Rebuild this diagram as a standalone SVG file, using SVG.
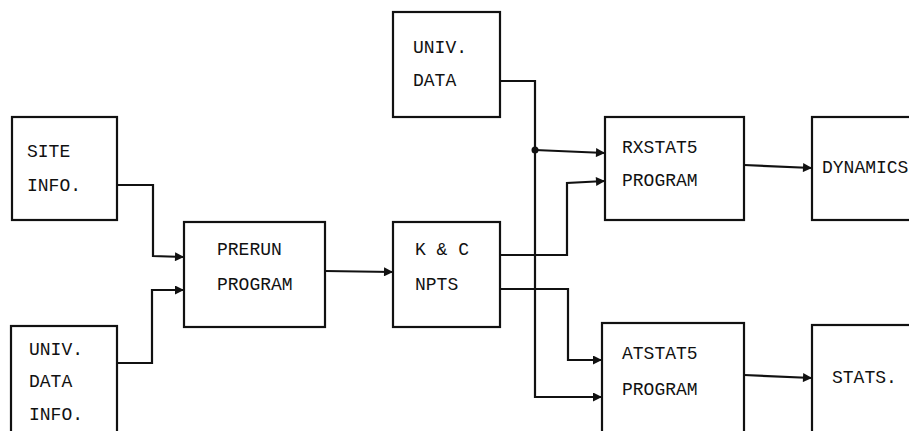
<svg xmlns="http://www.w3.org/2000/svg" width="909" height="431" viewBox="0 0 909 431">
<style>
.box{fill:#fff;stroke:#111;stroke-width:2.2}
.t{font-family:"Liberation Mono","Courier New",monospace;font-size:18px;fill:#111}
.c{fill:none;stroke:#111;stroke-width:2.2}
</style>
<defs>
<marker id="ah" viewBox="0 0 10 10" refX="10" refY="5" markerWidth="10" markerHeight="9" markerUnits="userSpaceOnUse" orient="auto">
<path d="M0,0 L10,5 L0,10 z" fill="#111"/>
</marker>
</defs>
<rect width="909" height="431" fill="#fff"/>
<g id="connectors">
<polyline class="c" points="117,185 153,185 153,256 184,257" marker-end="url(#ah)"/>
<polyline class="c" points="117,363 152,363 152,290 184,290" marker-end="url(#ah)"/>
<polyline class="c" points="325,271 393,272" marker-end="url(#ah)"/>
<polyline class="c" points="500,255 567,255 567,183 605,181" marker-end="url(#ah)"/>
<polyline class="c" points="500,289 568,289 568,360 602,360" marker-end="url(#ah)"/>
<polyline class="c" points="500,81 535,81 535,397 602,397" marker-end="url(#ah)"/>
<polyline class="c" points="535,150 605,153" marker-end="url(#ah)"/>
<circle cx="535" cy="150" r="3.5" fill="#111"/>
<polyline class="c" points="744,165 812,168" marker-end="url(#ah)"/>
<polyline class="c" points="744,375 812,378" marker-end="url(#ah)"/>
</g>
<g id="site-info">
<rect class="box" x="12" y="117" width="105" height="103"/>
<text class="t" x="27" y="157">SITE</text>
<text class="t" x="27" y="191">INFO.</text>
</g>
<g id="univ-data-info">
<rect class="box" x="11" y="326" width="106" height="110"/>
<text class="t" x="29" y="355">UNIV.</text>
<text class="t" x="29" y="387">DATA</text>
<text class="t" x="29" y="420">INFO.</text>
</g>
<g id="prerun">
<rect class="box" x="184" y="222" width="141" height="105"/>
<text class="t" x="217" y="255">PRERUN</text>
<text class="t" x="217" y="290">PROGRAM</text>
</g>
<g id="kc-npts">
<rect class="box" x="393" y="222" width="107" height="105"/>
<text class="t" x="415" y="255">K &amp; C</text>
<text class="t" x="415" y="290">NPTS</text>
</g>
<g id="univ-data">
<rect class="box" x="393" y="12" width="107" height="105"/>
<text class="t" x="413" y="53">UNIV.</text>
<text class="t" x="413" y="86">DATA</text>
</g>
<g id="rxstat5">
<rect class="box" x="605" y="117" width="139" height="103"/>
<text class="t" x="622" y="153">RXSTAT5</text>
<text class="t" x="622" y="186">PROGRAM</text>
</g>
<g id="dynamics">
<rect class="box" x="812" y="117" width="110" height="103"/>
<text class="t" x="822" y="173">DYNAMICS</text>
</g>
<g id="atstat5">
<rect class="box" x="602" y="323" width="142" height="112"/>
<text class="t" x="622" y="359">ATSTAT5</text>
<text class="t" x="622" y="395">PROGRAM</text>
</g>
<g id="stats">
<rect class="box" x="812" y="325" width="110" height="110"/>
<text class="t" x="832" y="383">STATS.</text>
</g>
</svg>
